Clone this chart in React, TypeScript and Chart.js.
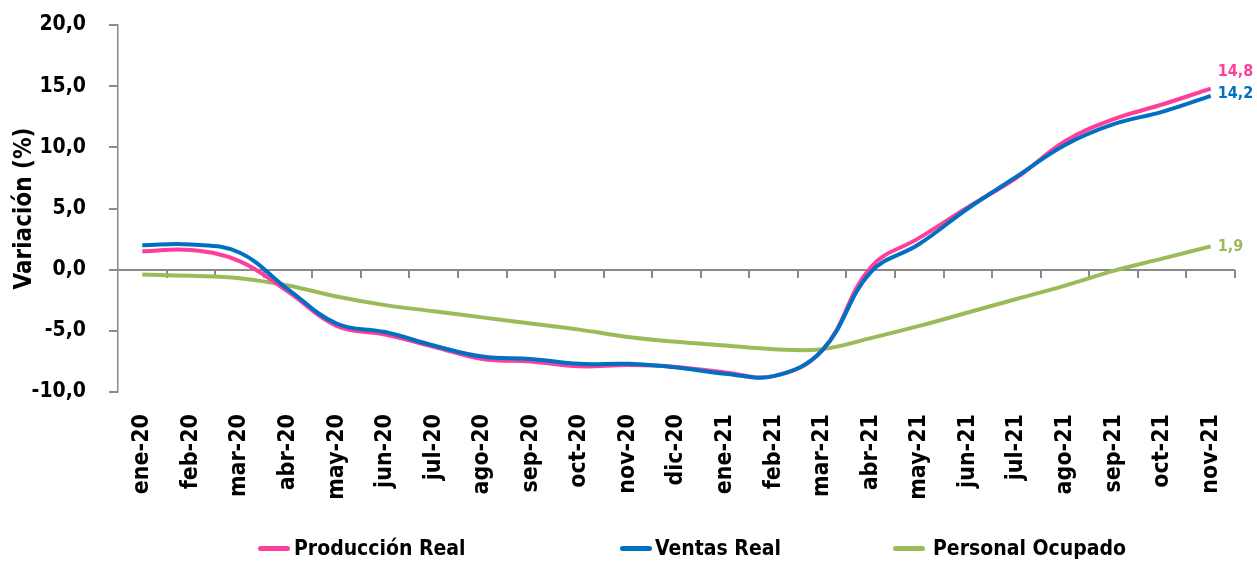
import React, { useEffect, useRef } from "react";
import { Chart, registerables } from "chart.js";

Chart.register(...registerables);

const categories = [
  "ene-20", "feb-20", "mar-20", "abr-20", "may-20", "jun-20", "jul-20", "ago-20",
  "sep-20", "oct-20", "nov-20", "dic-20", "ene-21", "feb-21", "mar-21", "abr-21",
  "may-21", "jun-21", "jul-21", "ago-21", "sep-21", "oct-21", "nov-21",
];

const produccionReal = [
  1.5, 1.6, 0.7, -1.8, -4.6, -5.3, -6.3, -7.3, -7.5, -7.9, -7.8, -7.95,
  -8.4, -8.7, -6.6, 0.2, 2.6, 5.1, 7.5, 10.5, 12.3, 13.5, 14.8,
];

const ventasReal = [
  2.0, 2.05, 1.4, -1.6, -4.4, -5.1, -6.2, -7.1, -7.3, -7.7, -7.7, -8.0,
  -8.5, -8.7, -6.6, -0.2, 2.1, 5.0, 7.6, 10.2, 11.9, 12.9, 14.2,
];

const personalOcupado = [
  -0.4, -0.5, -0.7, -1.3, -2.2, -2.9, -3.4, -3.9, -4.4, -4.9, -5.5, -5.9,
  -6.2, -6.5, -6.5, -5.6, -4.6, -3.5, -2.4, -1.3, -0.1, 0.9, 1.9,
];

const seriesNames = ["Producción Real", "Ventas Real", "Personal Ocupado"];
const seriesColors = ["#FF3E9B", "#0070C0", "#9BBB59"];
const yTickValues = [-10, -5, 0, 5, 10, 15, 20];

const FONT = "'DejaVu Sans Condensed', 'Liberation Sans Narrow', 'DejaVu Sans', sans-serif";
const AXIS_GRAY = "#8a8a8a";

const fmt = (v: number) => v.toFixed(1).replace(".", ",");

const endLabelOffsets: Record<number, number> = { 0: -17, 1: -2, 2: 0 };

const zeroLinePlugin = {
  id: "zeroLineMarks",
  afterDraw(chart: any) {
    const ctx = chart.ctx;
    const area = chart.chartArea;
    const ys = chart.scales.y;
    const y0 = ys.getPixelForValue(0);
    const n = categories.length;
    const step = (area.right - area.left) / n;
    ctx.save();
    ctx.globalCompositeOperation = "destination-over";
    ctx.fillStyle = AXIS_GRAY;
    ctx.fillRect(area.left, Math.round(y0) - 1, area.right - area.left, 2);
    for (let i = 1; i <= n; i++) {
      const px = Math.round(area.left + step * i);
      ctx.fillRect(px - 1, Math.round(y0), 2, 8);
    }
    ctx.restore();
  },
};

const endLabelPlugin = {
  id: "endValueLabels",
  afterDatasetsDraw(chart: any) {
    const ctx = chart.ctx;
    chart.data.datasets.forEach((ds: any, i: number) => {
      const meta = chart.getDatasetMeta(i);
      const last = meta.data[meta.data.length - 1];
      if (!last) return;
      const val = ds.data[ds.data.length - 1];
      ctx.save();
      ctx.font = `bold 16px ${FONT}`;
      ctx.fillStyle = ds.borderColor;
      ctx.textAlign = "left";
      ctx.textBaseline = "middle";
      ctx.fillText(fmt(val), last.x + 7, last.y + (endLabelOffsets[i] || 0));
      ctx.restore();
    });
  },
};

export default function App() {
  const canvasRef = useRef<HTMLCanvasElement | null>(null);

  useEffect(() => {
    const canvas = canvasRef.current;
    if (!canvas) return;
    const dataSets = [produccionReal, ventasReal, personalOcupado];
    const orders = [2, 1, 3];
    const chart = new Chart(canvas, {
      type: "line",
      data: {
        labels: categories,
        datasets: dataSets.map((d, i) => ({
          label: seriesNames[i],
          data: d,
          borderColor: seriesColors[i],
          backgroundColor: seriesColors[i],
          borderWidth: 4,
          pointRadius: 0,
          tension: 0.4,
          fill: false,
          order: orders[i],
        })),
      },
      options: {
        responsive: false,
        animation: false,
        layout: { padding: { top: 25, right: 22, bottom: 30, left: 0 } },
        plugins: {
          legend: { display: false },
          tooltip: { enabled: false },
        },
        scales: {
          x: {
            type: "category",
            offset: true,
            grid: { display: false },
            border: { display: false },
            ticks: {
              color: "#000",
              font: { family: FONT, size: 23, weight: "bold" },
              minRotation: 90,
              maxRotation: 90,
              autoSkip: false,
              padding: 14,
            },
            afterFit: (scale: any) => {
              scale.height = 140;
            },
          },
          y: {
            min: -10,
            max: 20,
            afterBuildTicks: (scale: any) => {
              scale.ticks = yTickValues.map((v) => ({ value: v }));
            },
            grid: {
              drawOnChartArea: true,
              drawTicks: true,
              tickLength: 9,
              color: (c: any) =>
                c.tick && c.tick.value === 0 ? AXIS_GRAY : "rgba(0,0,0,0)",
              tickColor: AXIS_GRAY,
              lineWidth: 2,
            },
            border: { display: true, color: AXIS_GRAY, width: 1.5 },
            ticks: {
              color: "#000",
              font: { family: FONT, size: 21, weight: "bold" },
              padding: 23,
              callback: (v: any) => fmt(Number(v)),
            },
            title: {
              display: true,
              text: "Variación (%)",
              color: "#000",
              font: { family: FONT, size: 24, weight: "bold" },
              padding: { top: 10, bottom: 0 },
            },
            afterFit: (scale: any) => {
              scale.width = 118;
              scale.paddingTop = 8;
              scale.paddingBottom = 8;
            },
          },
        },
      },
      plugins: [zeroLinePlugin, endLabelPlugin],
    });
    return () => chart.destroy();
  }, []);

  const legendItems = [
    { left: 258, textLeft: 294 },
    { left: 620, textLeft: 655 },
    { left: 893, textLeft: 933 },
  ];

  return (
    <div style={{ position: "fixed", left: 0, top: 0, width: 1257, height: 562, background: "#fff" }}>
      <canvas ref={canvasRef} width={1257} height={562} style={{ display: "block" }} />
      {seriesNames.map((name, i) => (
        <React.Fragment key={name}>
          <div
            style={{
              position: "absolute",
              left: legendItems[i].left,
              top: 546,
              width: 32,
              height: 5,
              borderRadius: 3,
              background: seriesColors[i],
            }}
          />
          <div
            style={{
              position: "absolute",
              left: legendItems[i].textLeft,
              top: 534,
              height: 28,
              lineHeight: "28px",
              fontFamily: FONT,
              fontWeight: "bold",
              fontSize: 21,
              color: "#000",
              whiteSpace: "nowrap",
            }}
          >
            {name}
          </div>
        </React.Fragment>
      ))}
    </div>
  );
}
